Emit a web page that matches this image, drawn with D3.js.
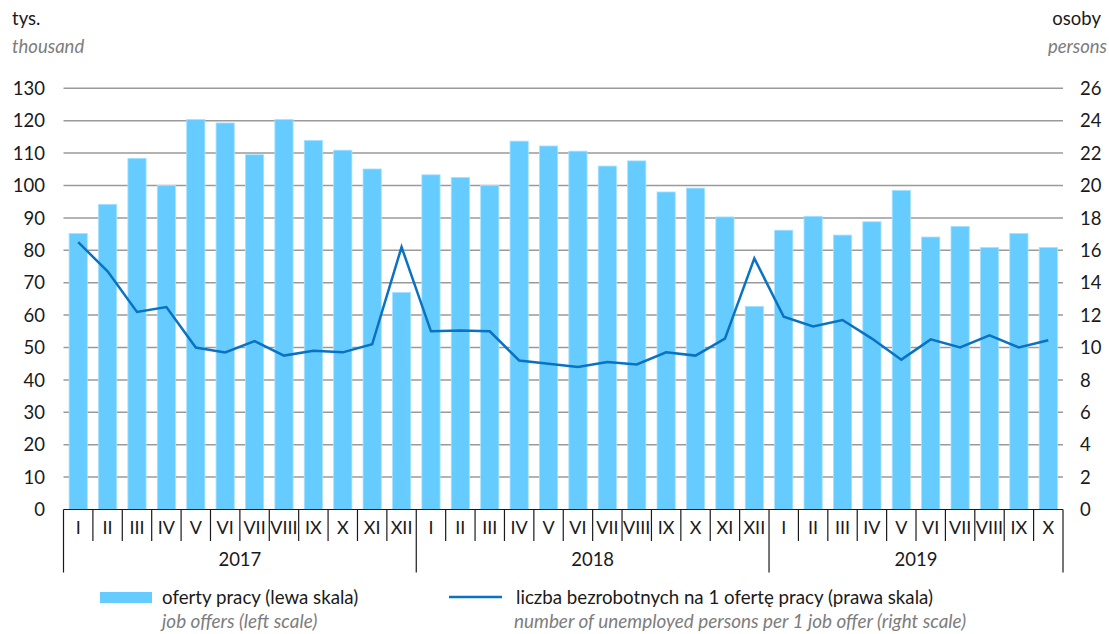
<!DOCTYPE html>
<meta charset="utf-8">
<style>
    body { margin: 0; background: #fff; }
    svg { font-family: Lato, "Open Sans", sans-serif; }
    .grid line { stroke: #9a9a9a; stroke-width: 1.5; }
    .tick-label { font-size: 18.5px; fill: #1a1a1a; }
    .month-label { font-size: 18px; fill: #1a1a1a; }
    .unit { font-size: 18.5px; fill: #1a1a1a; }
    .unit-en { font-size: 18.5px; fill: #7d7d7d; font-style: italic; }
    .legend { font-size: 18.7px; fill: #1a1a1a; }
    .legend-en { font-size: 18.9px; fill: #7d7d7d; font-style: italic; }
</style>
<body></body>
<script src="https://d3js.org/d3.v7.min.js"></script>
<script>
    // months shown under each bar, years under each group
    var years = ["2017", "2018", "2019"];
    var monthsPerYear = [
        ["I", "II", "III", "IV", "V", "VI", "VII", "VIII", "IX", "X", "XI", "XII"],
        ["I", "II", "III", "IV", "V", "VI", "VII", "VIII", "IX", "X", "XI", "XII"],
        ["I", "II", "III", "IV", "V", "VI", "VII", "VIII", "IX", "X"]
    ];

    // job offers, thousand (left scale)
    var offers = [
        85.2, 94.2, 108.4, 100.0, 120.4, 119.3, 109.5, 120.4, 113.9, 110.9, 105.1, 67.0,
        103.3, 102.5, 100.0, 113.7, 112.2, 110.6, 106.0, 107.6, 98.0, 99.2, 90.3, 62.7,
        86.2, 90.5, 84.7, 88.8, 98.5, 84.1, 87.4, 80.9, 85.2, 80.9
    ];

    // unemployed persons per 1 job offer (right scale)
    var ratio = [
        16.5, 14.7, 12.2, 12.5, 10.0, 9.7, 10.4, 9.5, 9.8, 9.7, 10.2, 16.2,
        11.0, 11.05, 11.0, 9.2, 9.0, 8.8, 9.1, 8.95, 9.7, 9.5, 10.55, 15.5,
        11.9, 11.3, 11.7, 10.55, 9.25, 10.5, 10.0, 10.75, 10.0, 10.45
    ];

    var leftTicks = d3.range(0, 131, 10);
    var rightTicks = d3.range(0, 27, 2);

    // build categories from years and months
    var categories = [];
    years.forEach(function (y, yi) {
        monthsPerYear[yi].forEach(function (m) {
            categories.push({ key: y + "-" + m, month: m, year: y });
        });
    });

    var W = 1109, H = 634;
    var plot = { left: 63.5, right: 1063, top: 88.3, bottom: 509.5 };

    var svg = d3.select("body").append("svg")
        .attr("width", W)
        .attr("height", H);

    var x = d3.scaleBand()
        .domain(categories.map(d => d.key))
        .range([plot.left, plot.right])
        .paddingInner(0.38)
        .paddingOuter(0.19);

    var step = x.step();

    var yLeft = d3.scaleLinear().domain([0, 130]).range([plot.bottom, plot.top]);
    var yRight = d3.scaleLinear().domain([0, 26]).range([plot.bottom, plot.top]);

    // gridlines
    svg.append("g").attr("class", "grid")
        .selectAll("line")
        .data(leftTicks.filter(t => t > 0))
        .join("line")
        .attr("x1", plot.left)
        .attr("x2", plot.right)
        .attr("y1", d => yLeft(d))
        .attr("y2", d => yLeft(d));

    // left tick labels
    svg.append("g")
        .selectAll("text")
        .data(leftTicks)
        .join("text")
        .attr("class", "tick-label")
        .attr("x", 45)
        .attr("y", d => yLeft(d))
        .attr("dy", "0.36em")
        .attr("text-anchor", "end")
        .text(d => d);

    // right tick labels
    svg.append("g")
        .selectAll("text")
        .data(rightTicks)
        .join("text")
        .attr("class", "tick-label")
        .attr("x", 1080)
        .attr("y", d => yRight(d))
        .attr("dy", "0.36em")
        .attr("text-anchor", "start")
        .text(d => d);

    // bars
    svg.append("g")
        .selectAll("rect")
        .data(offers)
        .join("rect")
        .attr("x", (d, i) => x(categories[i].key))
        .attr("width", x.bandwidth())
        .attr("y", d => yLeft(d))
        .attr("height", d => plot.bottom - yLeft(d))
        .attr("fill", "#66ccff")
        .attr("stroke", "#a8e2ff")
        .attr("stroke-width", 0.8);

    // ratio line
    var line = d3.line()
        .x((d, i) => x(categories[i].key) + x.bandwidth() / 2)
        .y(d => yRight(d));

    svg.append("path")
        .datum(ratio)
        .attr("d", line)
        .attr("fill", "none")
        .attr("stroke", "#0a72c2")
        .attr("stroke-width", 2.5)
        .attr("stroke-linejoin", "miter");

    // x axis line
    svg.append("line")
        .attr("x1", plot.left).attr("x2", plot.right)
        .attr("y1", plot.bottom).attr("y2", plot.bottom)
        .attr("stroke", "#1a1a1a").attr("stroke-width", 1.2);

    // month separators and labels
    var axisG = svg.append("g");
    var yearStart = {};
    categories.forEach(function (c, i) {
        var x0 = x(c.key) - (step - x.bandwidth()) / 2;
        var first = !(c.year in yearStart);
        if (first) yearStart[c.year] = x0;
        axisG.append("line")
            .attr("x1", x0).attr("x2", x0)
            .attr("y1", plot.bottom)
            .attr("y2", first ? 572.5 : 541)
            .attr("stroke", "#1a1a1a").attr("stroke-width", 1.2);
        axisG.append("text")
            .attr("class", "month-label")
            .attr("x", x(c.key) + x.bandwidth() / 2)
            .attr("y", 527.5)
            .attr("dy", "0.36em")
            .attr("text-anchor", "middle")
            .text(c.month);
    });
    axisG.append("line")
        .attr("x1", plot.right).attr("x2", plot.right)
        .attr("y1", plot.bottom).attr("y2", 572.5)
        .attr("stroke", "#1a1a1a").attr("stroke-width", 1.2);

    // year labels
    years.forEach(function (y, yi) {
        var x0 = yearStart[y];
        var x1 = yi < years.length - 1 ? yearStart[years[yi + 1]] : plot.right;
        axisG.append("text")
            .attr("class", "tick-label")
            .attr("x", (x0 + x1) / 2)
            .attr("y", 559)
            .attr("dy", "0.36em")
            .attr("text-anchor", "middle")
            .text(y);
    });

    // unit titles
    svg.append("text").attr("class", "unit").attr("x", 12).attr("y", 25).text("tys.");
    svg.append("text").attr("class", "unit-en").attr("x", 12).attr("y", 53).text("thousand");
    svg.append("text").attr("class", "unit").attr("x", 1101).attr("y", 25)
        .attr("text-anchor", "end").text("osoby");
    svg.append("text").attr("class", "unit-en").attr("x", 1107).attr("y", 53)
        .attr("text-anchor", "end").text("persons");

    // legend
    var legend = svg.append("g");
    legend.append("rect")
        .attr("x", 100).attr("y", 592).attr("width", 52).attr("height", 11)
        .attr("fill", "#66ccff");
    legend.append("text").attr("class", "legend").attr("x", 162).attr("y", 604)
        .text("oferty pracy (lewa skala)");
    legend.append("text").attr("class", "legend-en").attr("x", 162).attr("y", 628)
        .text("job offers (left scale)");

    legend.append("line")
        .attr("x1", 449).attr("x2", 502).attr("y1", 597).attr("y2", 597)
        .attr("stroke", "#0a72c2").attr("stroke-width", 2.5);
    legend.append("text").attr("class", "legend").attr("x", 516).attr("y", 604)
        .text("liczba bezrobotnych na 1 ofertę pracy (prawa skala)");
    legend.append("text").attr("class", "legend-en").attr("x", 514).attr("y", 628)
        .text("number of unemployed persons per 1 job offer (right scale)");
</script>
